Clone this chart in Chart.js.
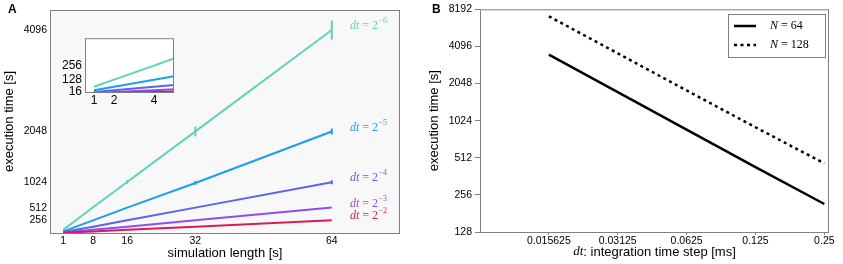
<!DOCTYPE html>
<html>
<head>
<meta charset="utf-8">
<script src="https://cdn.jsdelivr.net/npm/chart.js@4.4.1/dist/chart.umd.min.js"></script>
<style>
  body { margin: 0; background: #fff; }
  #wrap { position: relative; width: 843px; height: 264px; overflow: hidden; }
  canvas { position: absolute; }
  #chartA { left: 0; top: 0; }
  #inset { left: 55px; top: 28px; }
  #chartB { left: 420px; top: 0; }
  .panel { position: absolute; font: bold 12px 'Liberation Sans', Arial, sans-serif; color: #000; }
</style>
</head>
<body>
<div id="wrap">
  <canvas id="chartA" width="420" height="264"></canvas>
  <canvas id="inset" width="125" height="82"></canvas>
  <canvas id="chartB" width="423" height="264"></canvas>
  <div class="panel" style="left:8px;top:2px">A</div>
  <div class="panel" style="left:432px;top:2px">B</div>
</div>
<script>
// panel A: execution time vs simulation length, one line per dt
const simLength = [1, 2, 4, 8, 16, 32, 64];
const timeDt6 = [64, 128, 256, 520, 1030, 2050, 4096];
const timeDt5 = [32, 64, 128, 256, 513, 1010, 2048];
const timeDt4 = [16, 32, 64, 128, 256, 512, 1024];
const timeDt3 = [8, 16, 32, 64, 128, 256, 513];
const timeDt2 = [4, 8, 16, 32, 64, 128, 256];
const errDt6 = [0, 0, 0, 0, 40, 100, 195];
const errDt5 = [0, 0, 0, 0, 0, 40, 60];
const errDt4 = [0, 0, 0, 0, 0, 0, 40];
const dtExponents = ['−6', '−5', '−4', '−3', '−2'];
const lengthTicks = [1, 8, 16, 32, 64];
const timeTicksA = [256, 512, 1024, 2048, 4096];
const insetLengthTicks = [1, 2, 4];
const insetTimeTicks = [16, 128, 256];

// panel B: execution time vs integration step
const stepSizes = [0.015625, 0.03125, 0.0625, 0.125, 0.25];
const timeN64 = [3510, 1745, 866, 430, 216];
const timeN128 = [7190, 3600, 1800, 905, 461];
const timeTicksB = [128, 256, 512, 1024, 2048, 4096, 8192];

const colors = ['#5fd4b4', '#199ff0', '#5b63ec', '#8e4df2', '#d81b5f'];
const seriesA = [timeDt6, timeDt5, timeDt4, timeDt3, timeDt2];
const errorsA = [errDt6, errDt5, errDt4, null, null];

Chart.defaults.font.family = "'Liberation Sans', Arial, sans-serif";
Chart.defaults.color = '#000';
Chart.defaults.animation = false;
Chart.defaults.plugins.legend.display = false;
Chart.defaults.plugins.tooltip.enabled = false;

const SERIF = "'Liberation Serif', 'DejaVu Serif', serif";

const toPoints = (xs, ys) => xs.map((x, i) => ({ x, y: ys[i] }));
const fixTicks = list => scale => { scale.ticks = list.map(v => ({ value: v })); };
const plain = v => String(v);
const noGrid = { display: false, drawTicks: false, tickLength: 0 };

const frame = (fill, stroke) => ({
  id: 'frame',
  beforeDatasetsDraw(chart) {
    const { ctx, chartArea: a } = chart;
    ctx.save();
    ctx.fillStyle = fill;
    ctx.fillRect(a.left, a.top, a.right - a.left, a.bottom - a.top);
    ctx.restore();
  },
  afterDraw(chart) {
    const { ctx, chartArea: a } = chart;
    ctx.save();
    ctx.strokeStyle = stroke;
    ctx.lineWidth = 1;
    ctx.strokeRect(a.left + 0.5, a.top + 0.5, a.right - a.left - 1, a.bottom - a.top);
    ctx.restore();
  }
});

// error bars and "dt = 2^-k" labels on panel A
const dtDecor = {
  id: 'dtDecor',
  afterDatasetsDraw(chart) {
    const { ctx, chartArea: a } = chart;
    const xs = chart.scales.x, ys = chart.scales.y;
    ctx.save();
    seriesA.forEach((vals, k) => {
      const err = errorsA[k];
      ctx.strokeStyle = colors[k];
      ctx.lineWidth = 2;
      if (err) {
        err.forEach((e, i) => {
          if (!e) return;
          const px = xs.getPixelForValue(simLength[i]);
          ctx.beginPath();
          ctx.moveTo(px, ys.getPixelForValue(vals[i] - e));
          ctx.lineTo(px, ys.getPixelForValue(vals[i] + e));
          ctx.stroke();
        });
      }
      const y = ys.getPixelForValue(vals[vals.length - 1]) - 4;
      let x = a.right - 50;
      ctx.fillStyle = colors[k];
      ctx.textBaseline = 'middle';
      ctx.font = 'italic 12px ' + SERIF;
      ctx.fillText('dt', x, y);
      x += ctx.measureText('dt').width;
      ctx.font = '12px ' + SERIF;
      ctx.fillText(' = 2', x, y);
      x += ctx.measureText(' = 2').width;
      ctx.font = '8px ' + SERIF;
      ctx.fillText(dtExponents[k], x + 0.5, y - 5);
    });
    ctx.restore();
  }
};

const datasetsA = width => seriesA.map((vals, k) => ({
  data: toPoints(simLength, vals),
  borderColor: colors[k],
  borderWidth: width,
  pointRadius: 0,
  fill: false
})).reverse();

new Chart(document.getElementById('chartA'), {
  type: 'line',
  data: { datasets: datasetsA(2) },
  options: {
    responsive: false,
    layout: { padding: { top: 10, right: 20 } },
    scales: {
      x: {
        type: 'linear', min: -2.1, max: 80,
        afterBuildTicks: fixTicks(lengthTicks),
        afterFit: s => { s.height = 31; },
        grid: noGrid, border: { display: false },
        ticks: { padding: 2, font: { size: 10.5 }, maxRotation: 0, callback: plain },
        title: { display: true, text: 'simulation length [s]', font: { size: 13 }, padding: { top: 0, bottom: 3 } }
      },
      y: {
        type: 'linear', min: 0, max: 4500,
        afterBuildTicks: fixTicks(timeTicksA),
        afterFit: s => { s.width = 50; },
        grid: noGrid, border: { display: false },
        ticks: { padding: 3, font: { size: 10.5 }, callback: plain },
        title: { display: true, text: 'execution time [s]', font: { size: 13 }, padding: { top: 2, bottom: 0 } }
      }
    }
  },
  plugins: [frame('#f8f8f8', '#808080'), dtDecor]
});

new Chart(document.getElementById('inset'), {
  type: 'line',
  data: { datasets: datasetsA(2) },
  options: {
    responsive: false,
    layout: { padding: { top: 9, right: 6 } },
    scales: {
      x: {
        type: 'linear', min: 0.55, max: 5,
        afterBuildTicks: fixTicks(insetLengthTicks),
        afterFit: s => { s.height = 18; },
        grid: noGrid, border: { display: false },
        ticks: { padding: 1, font: { size: 12 }, maxRotation: 0, callback: plain }
      },
      y: {
        type: 'linear', min: 16, max: 505,
        afterBuildTicks: fixTicks(insetTimeTicks),
        afterFit: s => { s.width = 30; },
        grid: noGrid, border: { display: false },
        ticks: { padding: 3, font: { size: 12 }, callback: plain }
      }
    }
  },
  plugins: [frame('#ffffff', '#808080')]
});

// legend and mixed-font x title for panel B
const panelBText = {
  id: 'panelBText',
  afterDraw(chart) {
    const { ctx, chartArea: a } = chart;
    ctx.save();
    // legend box
    const bx = 308, by = 14, bw = 97, bh = 43;
    ctx.fillStyle = '#fff';
    ctx.fillRect(bx, by, bw, bh);
    ctx.strokeStyle = '#808080';
    ctx.lineWidth = 1;
    ctx.strokeRect(bx + 0.5, by + 0.5, bw, bh);
    chart.data.datasets.forEach((ds, i) => {
      const y = by + 12 + i * 19;
      ctx.strokeStyle = ds.borderColor;
      ctx.lineWidth = ds.borderWidth;
      ctx.setLineDash(ds.borderDash || []);
      ctx.beginPath();
      ctx.moveTo(bx + 6, y);
      ctx.lineTo(bx + 28, y);
      ctx.stroke();
      ctx.setLineDash([]);
      ctx.fillStyle = '#000';
      ctx.textBaseline = 'middle';
      let x = bx + 42;
      ctx.font = 'italic 12px ' + SERIF;
      ctx.fillText('N', x, y);
      x += ctx.measureText('N').width;
      ctx.font = '12px ' + SERIF;
      ctx.fillText(' = ' + ds.label, x, y);
    });
    // x title
    const cx = (a.left + a.right) / 2, ty = 252;
    ctx.font = 'italic 13px ' + SERIF;
    const w1 = ctx.measureText('dt').width;
    ctx.font = '13px ' + Chart.defaults.font.family;
    const rest = ': integration time step [ms]';
    const w2 = ctx.measureText(rest).width;
    let x = cx - (w1 + w2) / 2;
    ctx.fillStyle = '#000';
    ctx.textBaseline = 'middle';
    ctx.font = 'italic 13px ' + SERIF;
    ctx.fillText('dt', x, ty);
    ctx.font = '13px ' + Chart.defaults.font.family;
    ctx.fillText(rest, x + w1, ty);
    ctx.restore();
  }
};

new Chart(document.getElementById('chartB'), {
  type: 'line',
  data: {
    datasets: [
      { label: '64', data: toPoints(stepSizes, timeN64), borderColor: '#000', borderWidth: 2.5, pointRadius: 0 },
      { label: '128', data: toPoints(stepSizes, timeN128), borderColor: '#000', borderWidth: 2.5, borderDash: [3, 3.5], pointRadius: 0 }
    ]
  },
  options: {
    responsive: false,
    layout: { padding: { top: 9, right: 14 } },
    scales: {
      x: {
        type: 'logarithmic', min: 0.0078125, max: 0.262,
        afterBuildTicks: fixTicks(stepSizes),
        afterFit: s => { s.height = 32; },
        grid: { drawOnChartArea: false, tickLength: 3, color: '#808080' }, border: { display: false },
        ticks: { padding: 0, font: { size: 10.5 }, maxRotation: 0, callback: plain }
      },
      y: {
        type: 'logarithmic', min: 128, max: 8192,
        afterBuildTicks: fixTicks(timeTicksB),
        afterFit: s => { s.width = 60; },
        grid: { drawOnChartArea: false, tickLength: 5, color: '#808080' }, border: { display: false },
        ticks: { padding: 3, font: { size: 10.5 }, callback: plain },
        title: { display: true, text: 'execution time [s]', font: { size: 13 }, padding: { top: 7, bottom: 0 } }
      }
    }
  },
  plugins: [frame('#ffffff', '#808080'), panelBText]
});
</script>
</body>
</html>
